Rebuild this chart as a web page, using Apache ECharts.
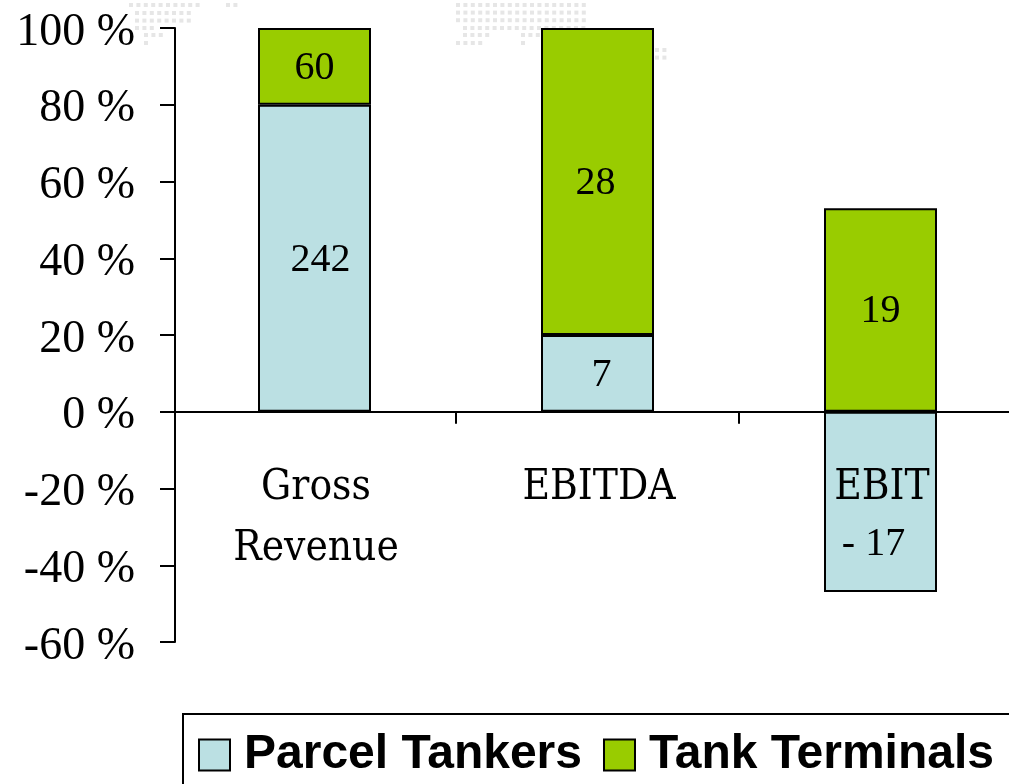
<!DOCTYPE html>
<html>
<head>
<meta charset="utf-8">
<style>html,body{margin:0;padding:0;background:#fff}#c{width:1009px;height:784px}</style>
<script src="https://cdn.jsdelivr.net/npm/echarts@6/dist/echarts.min.js"></script>
</head>
<body>
<div id="c"></div>
<script>
var categories = ['Gross\nRevenue', 'EBITDA', 'EBIT'];
var parcelTankersPct = [80, 20, -47];
var tankTerminalsPct = [20, 80, 53];
var parcelTankersLabels = ['242', '7', '- 17'];
var tankTerminalsLabels = ['60', '28', '19'];
var parcelLabelOffsets = [[6, 2], [4, 2], [-7, 43]];
var tankLabelOffsets = [[0, 2], [-2, 2], [0, 1]];

var SERIF = '"Liberation Serif", serif';
function dots(x, y, n, rows) {
  var out = [];
  for (var r = 0; r < rows; r++) for (var c = 0; c < n; c++) {
    out.push({type: 'rect', z: -1, silent: true, shape: {x: x + c * 7.4, y: y + r * 7.6, width: 4, height: 4}, style: {fill: '#e6e6e6'}});
  }
  return out;
}
var watermark = [].concat(
  dots(129, 3, 10, 1), dots(226, 3, 2, 1), dots(135, 11, 8, 2), dots(135, 26, 3, 1), dots(144, 33, 3, 1), dots(144, 41, 1, 1),
  dots(456, 3, 18, 3), dots(463, 26, 17, 1), dots(463, 33, 4, 1), dots(521, 33, 9, 1), dots(456, 41, 4, 1), dots(521, 41, 1, 1),
  dots(655, 48, 2, 2)
);

var chart = echarts.init(document.getElementById('c'), null, {renderer: 'canvas'});
function mk(name, vals, labels, offs, color) {
  return {
    name: name, type: 'bar', stack: 'total', barWidth: 113,
    itemStyle: {color: color, borderColor: '#000', borderWidth: 2},
    data: vals.map(function (v, i) {
      return {value: v, label: {show: true, position: 'inside', offset: offs[i], formatter: labels[i],
        fontFamily: SERIF, fontSize: 40, color: '#000'}};
    })
  };
}
chart.setOption({
  animation: false,
  backgroundColor: '#fff',
  grid: {left: 173, top: 28, width: 849, height: 614, outerBoundsMode: 'none'},
  xAxis: {
    type: 'category', data: categories, z: 5,
    axisLine: {onZero: true, lineStyle: {color: '#000', width: 2}},
    axisTick: {show: true, length: 12, interval: function (i) { return i > 0; }, lineStyle: {color: '#000', width: 2}},
    axisLabel: {fontFamily: '"DejaVu Serif Condensed", "DejaVu Serif", serif', fontSize: 42, color: '#000', lineHeight: 61, margin: -184, interval: 0, padding: [0, 0, 0, 3]}
  },
  yAxis: {
    type: 'value', min: -60, max: 100, interval: 20, offset: -2,
    splitLine: {show: false},
    axisLine: {show: true, lineStyle: {color: '#000', width: 2}},
    axisTick: {show: true, length: 15, lineStyle: {color: '#000', width: 2}},
    axisLabel: {fontFamily: SERIF, fontSize: 46, color: '#000', margin: 40, verticalAlign: 'top', lineHeight: 9,
      formatter: function (v) { return v + ' %'; }}
  },
  legend: {
    left: 198, top: 731, padding: [0, 0, 0, 0], itemWidth: 31, itemHeight: 31, itemGap: 21,
    selectedMode: false,
    textStyle: {fontFamily: '"Liberation Sans", Arial, sans-serif', fontWeight: 'bold', fontSize: 48, color: '#000', padding: [12, 0, 0, 9]},
    itemStyle: {borderColor: '#000', borderWidth: 2},
    icon: 'rect',
    data: ['Parcel Tankers', 'Tank Terminals']
  },
  graphic: watermark.concat([
    {type: 'rect', z: 1, silent: true, shape: {x: 183, y: 714, width: 900, height: 200},
      style: {fill: 'transparent', stroke: '#000', lineWidth: 2}}
  ]),
  series: [
    mk('Parcel Tankers', parcelTankersPct, parcelTankersLabels, parcelLabelOffsets, '#BBE0E3'),
    mk('Tank Terminals', tankTerminalsPct, tankTerminalsLabels, tankLabelOffsets, '#99CC00')
  ]
});
</script>
</body>
</html>
